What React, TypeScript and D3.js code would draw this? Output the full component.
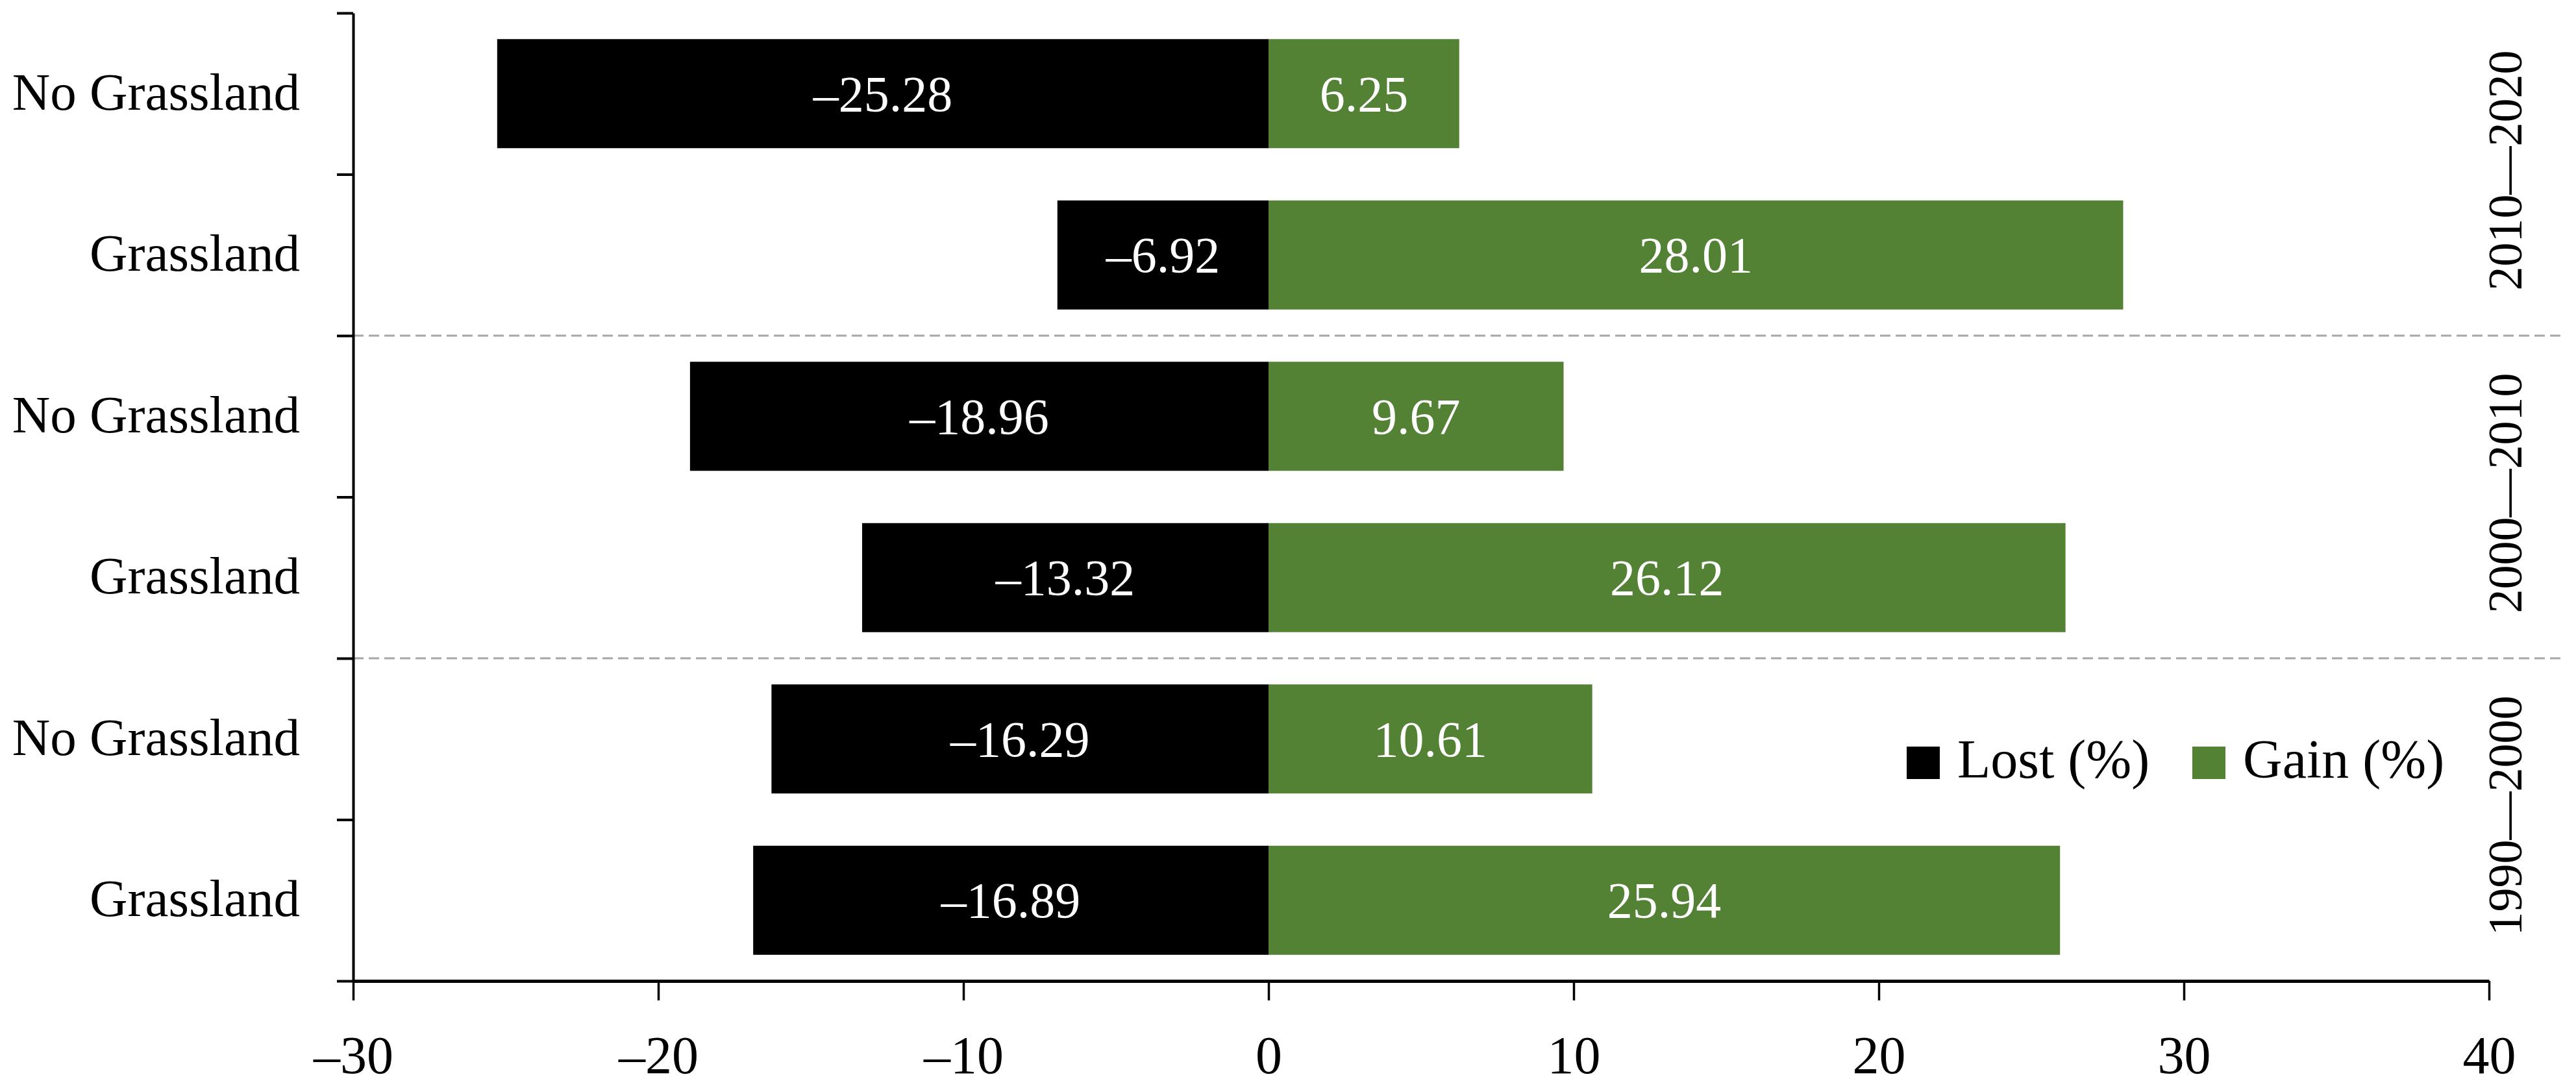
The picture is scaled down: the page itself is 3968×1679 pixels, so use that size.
import { useRef, useEffect } from 'react';
import * as d3 from 'd3';

const categories = ['No Grassland', 'Grassland', 'No Grassland', 'Grassland', 'No Grassland', 'Grassland'];
const lost = [-25.28, -6.92, -18.96, -13.32, -16.29, -16.89];
const gain = [6.25, 28.01, 9.67, 26.12, 10.61, 25.94];
const periods = ['2010—2020', '2000—2010', '1990—2000'];
const xTicks = [-30, -20, -10, 0, 10, 20, 30, 40];
const legendItems = ['Lost (%)', 'Gain (%)'];

const FONT = '"Palatino Linotype", "Book Antiqua", Palatino, "Liberation Serif", serif';
const GREEN = '#548235';

export default function App() {
  const ref = useRef<SVGSVGElement>(null);

  useEffect(() => {
    if (!ref.current) return;
    const width = 3968;
    const height = 1679;
    const margin = { top: 20, right: 134, bottom: 168, left: 544 };

    const svg = d3.select(ref.current);
    svg.selectAll('*').remove();
    svg.attr('width', width).attr('height', height);

    const x = d3
      .scaleLinear()
      .domain([-30, 40])
      .range([margin.left, width - margin.right]);

    const yEdge = d3
      .scaleLinear()
      .domain([0, categories.length])
      .range([margin.top, height - margin.bottom]);

    const y = d3
      .scaleBand<number>()
      .domain(d3.range(categories.length))
      .range([margin.top, height - margin.bottom])
      .paddingInner(0.324)
      .paddingOuter(0.162);

    // group separators
    svg
      .append('g')
      .selectAll('line')
      .data([2, 4])
      .join('line')
      .attr('x1', x(-30))
      .attr('x2', 3947)
      .attr('y1', (d) => yEdge(d))
      .attr('y2', (d) => yEdge(d))
      .attr('stroke', '#a6a6a6')
      .attr('stroke-width', 3)
      .attr('stroke-dasharray', '16 8');

    // bars
    const rows = categories.map((c, i) => ({ c, i, lost: lost[i], gain: gain[i] }));

    svg
      .append('g')
      .selectAll('rect')
      .data(rows)
      .join('rect')
      .attr('x', (d) => x(d.lost))
      .attr('y', (d) => y(d.i)!)
      .attr('width', (d) => x(0) - x(d.lost))
      .attr('height', y.bandwidth())
      .attr('fill', '#000');

    svg
      .append('g')
      .selectAll('rect')
      .data(rows)
      .join('rect')
      .attr('x', x(0))
      .attr('y', (d) => y(d.i)!)
      .attr('width', (d) => x(d.gain) - x(0))
      .attr('height', y.bandwidth())
      .attr('fill', GREEN);

    // bar value labels
    const labels = svg
      .append('g')
      .attr('font-family', FONT)
      .attr('font-size', 78)
      .attr('fill', '#fff')
      .attr('text-anchor', 'middle');

    labels
      .selectAll('text.lost')
      .data(rows)
      .join('text')
      .attr('class', 'lost')
      .attr('x', (d) => (x(d.lost) + x(0)) / 2)
      .attr('y', (d) => y(d.i)! + y.bandwidth() / 2)
      .attr('dy', '0.34em')
      .text((d) => '\u2013' + Math.abs(d.lost).toFixed(2));

    labels
      .selectAll('text.gain')
      .data(rows)
      .join('text')
      .attr('class', 'gain')
      .attr('x', (d) => (x(d.gain) + x(0)) / 2)
      .attr('y', (d) => y(d.i)! + y.bandwidth() / 2)
      .attr('dy', '0.34em')
      .text((d) => d.gain.toFixed(2));

    // y axis
    const yAxis = svg
      .append('g')
      .attr('transform', `translate(${margin.left},0)`)
      .call(
        d3
          .axisLeft(yEdge)
          .tickValues(d3.range(categories.length + 1))
          .tickSize(25)
          .tickSizeOuter(0)
          .tickFormat(() => '')
      );
    yAxis.select('.domain').attr('stroke-width', 4);
    yAxis.selectAll('.tick line').attr('stroke-width', 4);

    // category labels
    svg
      .append('g')
      .attr('font-family', FONT)
      .attr('font-size', 81)
      .attr('text-anchor', 'end')
      .selectAll('text')
      .data(rows)
      .join('text')
      .attr('x', 462)
      .attr('y', (d) => y(d.i)! + y.bandwidth() / 2)
      .attr('dy', '0.3em')
      .text((d) => d.c);

    // x axis
    const xAxis = svg
      .append('g')
      .attr('transform', `translate(0,${height - margin.bottom})`)
      .call(
        d3
          .axisBottom(x)
          .tickValues(xTicks)
          .tickSize(30)
          .tickSizeOuter(0)
          .tickFormat((d) => ((d as number) < 0 ? '\u2013' + Math.abs(d as number) : String(d)))
      );
    xAxis.select('.domain').attr('stroke-width', 5);
    xAxis.selectAll('.tick line').attr('stroke-width', 3.5);
    xAxis
      .selectAll('.tick text')
      .attr('font-family', FONT)
      .attr('font-size', 82)
      .attr('fill', '#000')
      .attr('y', 142)
      .attr('dy', 0);

    // period labels on the right
    svg
      .append('g')
      .attr('font-family', FONT)
      .attr('font-size', 74)
      .attr('text-anchor', 'middle')
      .selectAll('text')
      .data(periods)
      .join('text')
      .attr('transform', (_, i) => `translate(3858,${(yEdge(i * 2) + yEdge(i * 2 + 2)) / 2 - 6}) rotate(-90)`)
      .attr('dy', '0.35em')
      .text((d) => d);

    // legend
    const legend = svg
      .append('g')
      .attr('font-family', FONT)
      .attr('font-size', 84);
    const legendX = [2937, 3377];
    const legendColors = ['#000', GREEN];
    legendItems.forEach((name, i) => {
      legend
        .append('rect')
        .attr('x', legendX[i])
        .attr('y', 1150)
        .attr('width', 51)
        .attr('height', 50)
        .attr('fill', legendColors[i]);
      legend
        .append('text')
        .attr('x', legendX[i] + 78)
        .attr('y', 1198)
        .text(name);
    });
  }, []);

  return (
    <svg
      ref={ref}
      style={{ position: 'absolute', left: 0, top: 0, background: '#fff' }}
    ></svg>
  );
}
